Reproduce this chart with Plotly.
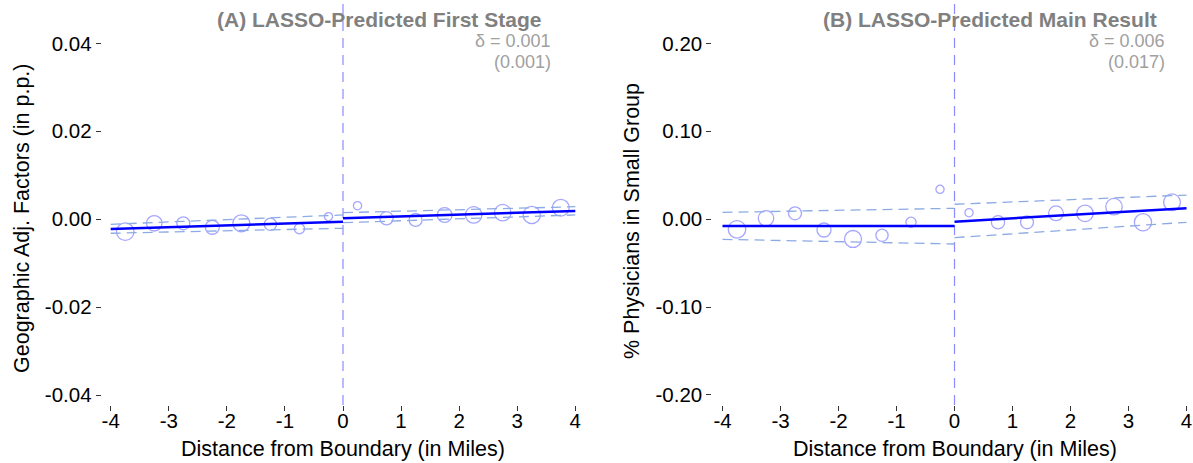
import numpy as np
import plotly.graph_objects as go

W, H = 1193, 463
PLOT_BOTTOM = 405  # pixel row where the plotting area ends

# ---------------- data ----------------
bins_left = [-3.75, -3.25, -2.75, -2.25, -1.75, -1.25, -0.75, -0.25]
bins_right = [0.25, 0.75, 1.25, 1.75, 2.25, 2.75, 3.25, 3.75]
# relative number of observations per distance bin (circle area)
bin_weight_left = [100, 78, 55, 64, 94, 49, 34, 22]
bin_weight_right = [22, 57, 55, 71, 89, 89, 97, 92]

fit_x_left = [-4, 0]
fit_x_right = [0, 4]

# Panel A: LASSO-predicted first stage
a_bins_left = [-0.00284, -0.00093, -0.00093, -0.00184, -0.00093, -0.00116, -0.00216, 0.00057]
a_bins_right = [0.00307, 0.00020, -0.00018, 0.00096, 0.00096, 0.00148, 0.00096, 0.00262]
a_fit_left = [-0.00223, -0.00057]
a_hi_left = [-0.00116, 0.00096]
a_lo_left = [-0.00320, -0.00207]
a_fit_right = [0.00020, 0.00187]
a_hi_right = [0.00148, 0.00284]
a_lo_right = [-0.00080, 0.00096]

# Panel B: LASSO-predicted main result
b_bins_left = [-0.0115, 0.0010, 0.0067, -0.0123, -0.0225, -0.0183, -0.0035, 0.0340]
b_bins_right = [0.0074, -0.0035, -0.0035, 0.0067, 0.0067, 0.0142, -0.0035, 0.0192]
b_fit_left = [-0.0077, -0.0077]
b_hi_left = [0.0078, 0.0124]
b_lo_left = [-0.0229, -0.0282]
b_fit_right = [-0.0028, 0.0124]
b_hi_right = [0.0170, 0.0275]
b_lo_right = [-0.0210, -0.0035]

x_ticks = [-4, -3, -2, -1, 0, 1, 2, 3, 4]
x_labels = ["-4", "-3", "-2", "-1", "0", "1", "2", "3", "4"]
a_y_ticks = [-0.04, -0.02, 0.0, 0.02, 0.04]
a_y_labels = ["-0.04", "-0.02", "0.00", "0.02", "0.04"]
b_y_ticks = [-0.20, -0.10, 0.0, 0.10, 0.20]
b_y_labels = ["-0.20", "-0.10", "0.00", "0.10", "0.20"]

titles = ["(A) LASSO-Predicted First Stage", "(B) LASSO-Predicted Main Result"]
y_titles = ["Geographic Adj. Factors (in p.p.)", "% Physicians in Small Group"]
x_title = "Distance from Boundary (in Miles)"
delta_text = [("δ = 0.001", "(0.001)"), ("δ = 0.006", "(0.017)")]

# ---------------- style ----------------
FONT = "Liberation Sans, Arial, sans-serif"
CIRCLE = "rgb(128,128,255)"
FIT = "rgb(0,0,255)"
CI = "rgb(140,170,228)"
VLINE = "rgb(140,140,255)"
TITLE_GRAY = "rgb(128,128,128)"
NOTE_GRAY = "rgb(160,160,160)"
MAX_D = 17.5


def diam(w):
    return [MAX_D * np.sqrt(v / 100.0) for v in w]


def px(x):
    return x / W


def py(y):
    return (PLOT_BOTTOM - y) / PLOT_BOTTOM


fig = go.Figure()

panels = [
    dict(xa="x", ya="y", bl=a_bins_left, br=a_bins_right,
         fl=a_fit_left, hl=a_hi_left, ll=a_lo_left,
         fr=a_fit_right, hr=a_hi_right, lr=a_lo_right),
    dict(xa="x2", ya="y2", bl=b_bins_left, br=b_bins_right,
         fl=b_fit_left, hl=b_hi_left, ll=b_lo_left,
         fr=b_fit_right, hr=b_hi_right, lr=b_lo_right),
]

for p in panels:
    for xs, ys, w in [(bins_left, p["bl"], bin_weight_left),
                      (bins_right, p["br"], bin_weight_right)]:
        fig.add_trace(go.Scatter(
            x=xs, y=ys, mode="markers", xaxis=p["xa"], yaxis=p["ya"],
            marker=dict(symbol="circle-open", size=diam(w), color=CIRCLE,
                        line=dict(width=1.3, color=CIRCLE)),
            showlegend=False, hoverinfo="skip"))
    for fx, hi, lo, fit in [(fit_x_left, p["hl"], p["ll"], p["fl"]),
                            (fit_x_right, p["hr"], p["lr"], p["fr"])]:
        for band in (hi, lo):
            fig.add_trace(go.Scatter(
                x=fx, y=band, mode="lines", xaxis=p["xa"], yaxis=p["ya"],
                line=dict(color=CI, width=1.3, dash="10px,6px"),
                showlegend=False, hoverinfo="skip"))
        fig.add_trace(go.Scatter(
            x=fx, y=fit, mode="lines", xaxis=p["xa"], yaxis=p["ya"],
            line=dict(color=FIT, width=2.5),
            showlegend=False, hoverinfo="skip"))

axis_common = dict(showline=False, showgrid=False, zeroline=False,
                   ticks="outside", ticklen=5, tickwidth=1, tickcolor="#333",
                   tickfont=dict(family=FONT, size=20.5, color="black"))

# plotting regions in pixels: left panel 101.7-584.3, right panel 712.3-1193
fig.update_layout(
    width=W, height=H,
    margin=dict(l=0, r=0, t=0, b=H - PLOT_BOTTOM),
    paper_bgcolor="white", plot_bgcolor="white",
    xaxis=dict(domain=[px(101.7), px(584.3)], range=[-4.155, 4.155],
               tickvals=x_ticks, ticktext=x_labels, ticklabelstandoff=-8,
               anchor="y", **axis_common),
    yaxis=dict(domain=[0, 1], range=[-0.04227, 0.04986],
               tickvals=a_y_ticks, ticktext=a_y_labels, anchor="x", **axis_common),
    xaxis2=dict(domain=[px(712.3), 1.0], range=[-4.176, 4.112],
                tickvals=x_ticks, ticktext=x_labels, ticklabelstandoff=-8,
                anchor="y2", **axis_common),
    yaxis2=dict(domain=[0, 1], range=[-0.2114, 0.2494],
                tickvals=b_y_ticks, ticktext=b_y_labels, anchor="x2", **axis_common),
)

# boundary lines at distance zero
for xref in ("x", "x2"):
    fig.add_shape(type="line", xref=xref, yref="paper", x0=0, x1=0, y0=0, y1=1,
                  line=dict(color=VLINE, width=1.2, dash="10px,7px"), layer="below")

ann = []
for title, cx in zip(titles, [379, 990]):
    ann.append(dict(text="<b>%s</b>" % title, x=px(cx), y=py(19), xref="paper", yref="paper",
                    xanchor="center", yanchor="middle", showarrow=False,
                    font=dict(family=FONT, size=21, color=TITLE_GRAY)))
for (l1, l2), rx in zip(delta_text, [553, 1167]):
    ann.append(dict(text=l1, x=px(rx), y=py(41), xref="paper", yref="paper",
                    xanchor="right", yanchor="middle", showarrow=False,
                    font=dict(family=FONT, size=18, color=NOTE_GRAY)))
    ann.append(dict(text=l2, x=px(rx), y=py(62), xref="paper", yref="paper",
                    xanchor="right", yanchor="middle", showarrow=False,
                    font=dict(family=FONT, size=18, color=NOTE_GRAY)))
for cx in [342.7, 954.5]:
    ann.append(dict(text=x_title, x=px(cx), y=py(449), xref="paper", yref="paper",
                    xanchor="center", yanchor="middle", showarrow=False,
                    font=dict(family=FONT, size=21.5, color="black")))
for t, cx, cy in zip(y_titles, [22, 632], [218, 221]):
    ann.append(dict(text=t, x=px(cx), y=py(cy), xref="paper", yref="paper",
                    xanchor="center", yanchor="middle", showarrow=False, textangle=-90,
                    font=dict(family=FONT, size=21.5, color="black")))
fig.update_layout(annotations=ann)

fig.write_html("out.html")
